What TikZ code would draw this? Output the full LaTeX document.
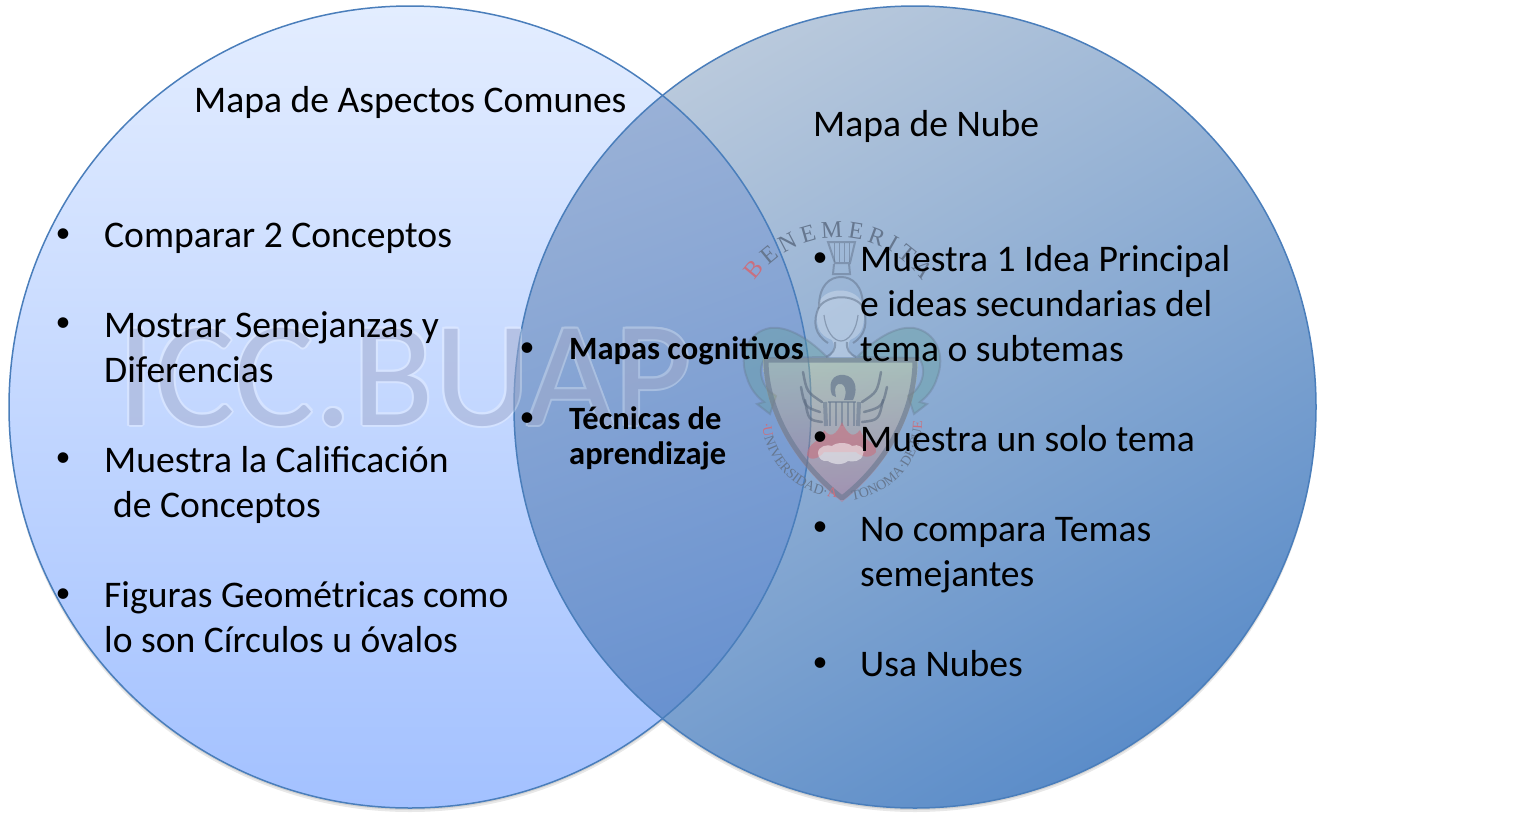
\documentclass[tikz,border=0pt]{standalone}
\usepackage{fontspec}
\setmainfont{Carlito}
\newfontfamily\crestfont{Liberation Serif}
\usetikzlibrary{decorations.text}
\definecolor{ringblue}{HTML}{4A7EBB}
\definecolor{lefttop}{HTML}{E3EDFF}
\definecolor{leftbot}{HTML}{A3C1FF}
\definecolor{righttop}{HTML}{B9C9DC}
\definecolor{rightbot}{HTML}{5C8DC9}
\definecolor{overtop}{HTML}{9BB2D7}
\definecolor{overbot}{HTML}{5887CD}
\definecolor{crestgray}{HTML}{66778F}
\definecolor{crestgreen}{HTML}{5E9E96}
\definecolor{crestred}{HTML}{C9707F}
\definecolor{watergray}{HTML}{6473AA}
\newcommand{\crestbig}[1]{\crestfont\fontsize{24}{24}\selectfont\color{#1}}
\newcommand{\crestsmall}[1]{\crestfont\fontsize{14}{14}\selectfont\color{#1}}
\begin{document}
\begin{tikzpicture}[x=1pt,y=-1pt,
  ring/.style={draw=ringblue,line width=1.5pt},
  item/.style={anchor=base west,align=left,inner sep=0pt,text=black,font=\fontsize{37.6}{45}\selectfont},
  midtext/.style={anchor=base west,align=left,inner sep=0pt,text=black,font=\fontsize{32.5}{35}\selectfont\bfseries},
  dot/.style={anchor=center,inner sep=0pt,text=black,font=\fontsize{30}{30}\selectfont},
  water/.style={anchor=base west,inner sep=0pt,font=\fontsize{150}{150}\selectfont},
  crestline/.style={draw=crestgray,opacity=.55,line width=2pt},
  feather/.style={draw=crestgray!90!black,opacity=.6,line width=2.5pt,line cap=round}]
\useasboundingbox (0,0) rectangle (1518,820);
\fill[white] (0,0) rectangle (1518,820);
% shadows
\foreach \y in {409,411} {
  \fill[black,opacity=.09] (410,\y) circle[radius=401pt];
  \fill[black,opacity=.09] (915,\y) circle[radius=401pt];
}
% the two circles and their overlap
\shade[top color=lefttop,bottom color=leftbot] (410,407) circle[radius=401pt];
\shade[top color=righttop,bottom color=rightbot,shading angle=30] (915,407) circle[radius=401pt];
\begin{scope}
\clip (410,407) circle[radius=401pt];
\shade[top color=overtop,bottom color=overbot,shading angle=20] (915,407) circle[radius=401pt];
\end{scope}
\draw[ring] (410,407) circle[radius=401pt];
\draw[ring] (915,407) circle[radius=401pt];
% watermark
\begin{scope}[transparency group,opacity=.3]
\foreach \dx/\dy in {-2/0,2/0,0/-2,0/2,-1.5/-1.5,1.5/1.5,-1.5/1.5,1.5/-1.5}
  \node[water,text=white] at (117+\dx,425+\dy) {ICC.BUAP};
\end{scope}
\node[water,text=watergray,text opacity=.3] (wm) at (117,425) {ICC.BUAP};
% crest ribbons
\path[fill=crestgreen,opacity=.35,draw=crestgray,line width=2pt] (827,357) .. controls (805,335) and (785,326) .. (770,328) .. controls (748,332) and (738,355) .. (747,378) .. controls (750,388) and (756,396) .. (764,402) -- (757,404) -- (770,414) -- (776,396) -- (770,392) .. controls (760,382) and (758,368) .. (765,358) -- cycle;
\path[fill=crestgreen,opacity=.35,draw=crestgray,line width=2pt] (857,357) .. controls (879,335) and (899,326) .. (914,328) .. controls (936,332) and (946,355) .. (937,378) .. controls (934,388) and (928,396) .. (920,402) -- (927,404) -- (914,414) -- (908,396) -- (914,392) .. controls (924,382) and (926,368) .. (919,358) -- cycle;
% shield
\shade[top color=yellow!60!white,bottom color=red!75!white,opacity=.22] (763,358) -- (918,358) .. controls (918,410) and (890,465) .. (842,502) .. controls (794,465) and (763,410) .. (763,358) -- cycle;
\draw[draw=crestgray,opacity=.6,line width=5pt,line join=round] (766,360) -- (915,360) .. controls (915,410) and (888,462) .. (842,498) .. controls (796,462) and (766,410) .. (766,360) -- cycle;
% figure with helmet
\path[fill=white,opacity=.25] (830,357) .. controls (835,350) and (835,345) .. (832,340) .. controls (818,335) and (815,325) .. (818,307) .. controls (820,285) and (860,285) .. (863,307) .. controls (866,325) and (862,335) .. (850,340) .. controls (847,345) and (848,350) .. (853,357) -- cycle;
\draw[crestline] (828,242) -- (855,242) -- (850,263) -- (835,263) -- cycle;
\foreach \x in {834,839,844,849} \draw[crestline,line width=1pt] (\x,243) -- (\x,262);
\draw[crestline] (834,264) -- (833,274) -- (850,274) -- (849,264);
\draw[crestline] (819,307) .. controls (819,285) and (830,277) .. (841,277) .. controls (852,277) and (863,285) .. (863,307) .. controls (855,294) and (828,294) .. (819,307) -- cycle;
\draw[crestline] (819,307) .. controls (812,322) and (815,335) .. (828,343) (863,307) .. controls (868,322) and (866,335) .. (853,343);
\draw[crestline,line width=1.2pt] (824,315) .. controls (826,332) and (834,341) .. (841,341) .. controls (848,341) and (856,332) .. (858,315);
\draw[crestline] (835,342) .. controls (836,350) and (832,354) .. (826,357) (847,342) .. controls (846,350) and (850,354) .. (856,357);
% phoenix
\foreach \fx/\fy/\gx/\gy in {803/372/822/402,801/387/820/412,805/400/822/422,881/372/862/402,887/387/864/412,883/400/862/422}
  \draw[feather] (\fx,\fy) .. controls ({\fx+(\gx-\fx)*0.2},{\fy+20}) .. (\gx,\gy);
\path[fill=crestgray,opacity=.7] (832,395) .. controls (826,378) and (838,372) .. (848,376) .. controls (857,380) and (857,392) .. (853,400) -- (844,400) .. controls (848,390) and (844,382) .. (838,384) .. controls (834,386) and (835,392) .. (836,397) -- cycle;
\foreach \x in {830,836,842,848,854} \draw[crestline,line width=1.5pt] (\x,402) -- (\x,426);
\draw[crestline] (828,402) -- (856,402);
\draw[crestline,line width=4pt] (825,402) -- (826,426) (859,402) -- (858,426);
% flames and cloud
\path[fill=crestred,opacity=.6] (807,455) .. controls (807,442) and (822,442) .. (824,430) .. controls (830,438) and (836,436) .. (842,422) .. controls (848,436) and (854,438) .. (860,430) .. controls (864,442) and (877,442) .. (876,452) .. controls (870,460) and (860,456) .. (856,452) -- (824,452) .. controls (820,458) and (810,462) .. (807,455) -- cycle;
\path[fill=white,opacity=.5] (818,453) .. controls (818,446) and (828,444) .. (832,446) .. controls (836,442) and (848,442) .. (852,446) .. controls (858,443) and (866,448) .. (863,454) .. controls (862,462) and (852,462) .. (848,461) .. controls (842,466) and (832,464) .. (828,461) .. controls (822,462) and (818,458) .. (818,453) -- cycle;
% crest lettering
\path[postaction={decorate},decoration={text along path,text align={fit to path},text={|\crestbig{crestred}|B|||\crestbig{crestgray}|ENEMERITA}}] (755,281) arc[start angle=145,end angle=35,radius=102pt];
\path[postaction={decorate},decoration={text along path,text align={fit to path},text={|\crestsmall{crestred}|·U|||\crestsmall{crestgray}|NIVERSIDAD·|||\crestsmall{crestred}|AU}}] (762,423) arc[start angle=184,end angle=264,radius=80pt];
\path[postaction={decorate},decoration={text along path,text align={fit to path},text={|\crestsmall{crestgray}|TONOMA·DE·PU|||\crestsmall{crestred}|EBLA·}}] (852,500) arc[start angle=277,end angle=358,radius=80pt];
% circle titles
\node[item] (aspectos) at (194,112) {Mapa de Aspectos Comunes};
\node[item] (nube) at (813,136) {Mapa de Nube};
% left list
\node[item] (comparar) at (104,247) {Comparar 2 Conceptos};
\node[item] (mostrar) at (104,382) {Mostrar Semejanzas y\\Diferencias};
\node[item] (califica) at (104,517) {Muestra la Calificación\\\hspace*{9pt}de Conceptos};
\node[item] (figuras) at (104,652) {Figuras Geométricas como\\lo son Círculos u óvalos};
\foreach \y in {236,325,460,596} \node[dot] at (63,\y) {•};
% middle list
\node[midtext] (mapas) at (569,359) {Mapas cognitivos};
\node[midtext] (tecnicas) at (569,464) {Técnicas de\\aprendizaje};
\foreach \y in {350,420} \node[dot] at (527,\y) {•};
% right list
\node[item] (idea) at (860,361) {Muestra 1 Idea Principal\\e ideas secundarias del\\tema o subtemas};
\node[item] (tema) at (860,451) {Muestra un solo tema};
\node[item] (compara) at (860,586) {No compara Temas\\semejantes};
\node[item] (usa) at (860,676) {Usa Nubes};
\foreach \y in {260,439,529,665} \node[dot] at (820,\y) {•};
\end{tikzpicture}
\end{document}
